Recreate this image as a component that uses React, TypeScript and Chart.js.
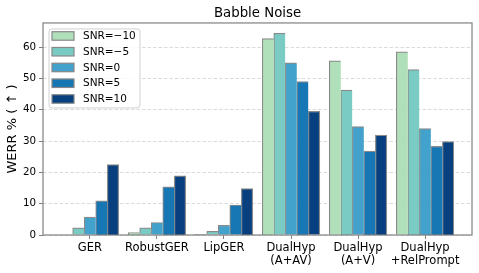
import React, { useEffect, useRef } from "react";
import { Chart, registerables } from "chart.js";

Chart.register(...registerables);

const categories: (string | string[])[] = [
  "GER",
  "RobustGER",
  "LipGER",
  ["DualHyp", "(A+AV)"],
  ["DualHyp", "(A+V)"],
  ["DualHyp", "+RelPrompt"],
];
const seriesLabels = ["SNR=\u221210", "SNR=\u22125", "SNR=0", "SNR=5", "SNR=10"];
const snrM10 = [0, 0.8, 0.2, 62.7, 55.6, 58.5];
const snrM5 = [2.3, 2.3, 1.2, 64.4, 46.3, 52.8];
const snr0 = [5.7, 4.0, 3.1, 55.0, 34.6, 34.0];
const snr5 = [10.9, 15.4, 9.6, 49.0, 26.8, 28.3];
const snr10 = [22.5, 18.9, 14.8, 39.5, 31.9, 29.8];
const yTicks = [0, 10, 20, 30, 40, 50, 60];
const colors = ["#b0e0b9", "#79cbc3", "#42a2cb", "#1777b4", "#08407f"];

const FONT = "DejaVu Sans";

export default function App() {
  const ref = useRef<HTMLCanvasElement>(null);
  useEffect(() => {
    document.body.style.margin = "0";
    const series = [snrM10, snrM5, snr0, snr5, snr10];
    Chart.defaults.font.family = FONT;

    const framePlugin = {
      id: "frame",
      afterDatasetsDraw(chart: any) {
        const { ctx, chartArea: a } = chart;
        ctx.save();
        ctx.strokeStyle = "#808080";
        ctx.lineWidth = 1.2;
        ctx.strokeRect(a.left, a.top, a.right - a.left, a.bottom - a.top);
        ctx.restore();
      },
    };

    const legendPlugin = {
      id: "boxLegend",
      afterDraw(chart: any) {
        const { ctx, chartArea: a } = chart;
        const x0 = a.left + 6;
        const y0 = a.top + 6;
        const w = 91;
        const h = 79;
        const r = 3;
        ctx.save();
        ctx.beginPath();
        ctx.moveTo(x0 + r, y0);
        ctx.lineTo(x0 + w - r, y0);
        ctx.quadraticCurveTo(x0 + w, y0, x0 + w, y0 + r);
        ctx.lineTo(x0 + w, y0 + h - r);
        ctx.quadraticCurveTo(x0 + w, y0 + h, x0 + w - r, y0 + h);
        ctx.lineTo(x0 + r, y0 + h);
        ctx.quadraticCurveTo(x0, y0 + h, x0, y0 + h - r);
        ctx.lineTo(x0, y0 + r);
        ctx.quadraticCurveTo(x0, y0, x0 + r, y0);
        ctx.closePath();
        ctx.fillStyle = "rgba(255,255,255,0.8)";
        ctx.fill();
        ctx.strokeStyle = "#d0d0d0";
        ctx.lineWidth = 1;
        ctx.stroke();
        chart.data.datasets.forEach((ds: any, i: number) => {
          const cy = y0 + 7 + i * 15.75;
          ctx.fillStyle = ds.backgroundColor;
          ctx.fillRect(x0 + 3, cy - 4.25, 22, 8.5);
          ctx.strokeStyle = "#888888";
          ctx.lineWidth = 1.2;
          ctx.strokeRect(x0 + 3, cy - 4.25, 22, 8.5);
          ctx.fillStyle = "#000";
          ctx.font = `10.5px "${FONT}"`;
          ctx.textBaseline = "middle";
          ctx.textAlign = "left";
          ctx.fillText(ds.label, x0 + 34, cy + 0.5);
        });
        ctx.restore();
      },
    };

    const chart = new Chart(ref.current!, {
      type: "bar",
      data: {
        datasets: series.map((vals, i) => ({
          label: seriesLabels[i],
          data: vals.map((v, j) => ({ x: j, y: v })),
          backgroundColor: colors[i],
          borderColor: "#8a8a8a",
          borderWidth: {
            top: 1.2,
            left: 1.2,
            bottom: 0,
            right: i === series.length - 1 ? 1.2 : 0,
          },
          borderSkipped: false,
          inflateAmount: 0.3,
          categoryPercentage: 0.86,
          barPercentage: 1,
        })),
      },
      options: {
        animation: false,
        responsive: false,
        maintainAspectRatio: false,
        datasets: { bar: { categoryPercentage: 0.86, barPercentage: 1 } },
        layout: { padding: { left: 0, right: 7, top: 0, bottom: 0 } },
        plugins: {
          legend: { display: false },
          tooltip: { enabled: false },
          title: {
            display: true,
            fullSize: false,
            text: "Babble Noise",
            color: "#000",
            font: { family: FONT, size: 13.3, weight: "normal" },
            padding: { top: 5.5, bottom: 1.5 },
          },
        },
        scales: {
          x: {
            type: "linear",
            min: -0.7,
            max: 5.7,
            offset: false,
            afterBuildTicks: (scale: any) => {
              scale.ticks = categories.map((_, i) => ({ value: i }));
            },
            afterFit: (scale: any) => {
              scale.height = 38;
            },
            ticks: {
              autoSkip: false,
              maxRotation: 0,
              minRotation: 0,
              padding: 2,
              color: "#000",
              font: { family: FONT, size: 11.5, lineHeight: 1.15 },
              callback: (v: any) => categories[v as number] ?? "",
            },
            grid: {
              display: true,
              offset: false,
              drawOnChartArea: false,
              drawTicks: true,
              tickLength: 4,
              tickColor: "#808080",
              tickWidth: 1,
            },
            border: { display: false },
          },
          y: {
            type: "linear",
            min: 0,
            max: 67.7,
            afterBuildTicks: (scale: any) => {
              scale.ticks = yTicks.map((v) => ({ value: v }));
            },
            afterFit: (scale: any) => {
              scale.width = 43;
            },
            ticks: {
              padding: 3,
              color: "#000",
              font: { family: FONT, size: 10.3 },
            },
            grid: {
              display: true,
              color: "rgba(190,190,190,0.7)",
              lineWidth: 0.8,
              drawTicks: true,
              tickLength: 4,
              tickColor: "#808080",
              tickWidth: 1,
              tickBorderDash: [],
            },
            border: { display: false, dash: [3.5, 2] },
            title: {
              display: true,
              text: "WERR % ( \u2191 )",
              color: "#000",
              font: { family: FONT, size: 13 },
              padding: { top: 5, bottom: 0 },
            },
          },
        },
      },
      plugins: [framePlugin, legendPlugin],
    } as any);
    return () => chart.destroy();
  }, []);

  return (
    <div style={{ width: 479, height: 273 }}>
      <canvas ref={ref} width={479} height={273} />
    </div>
  );
}
